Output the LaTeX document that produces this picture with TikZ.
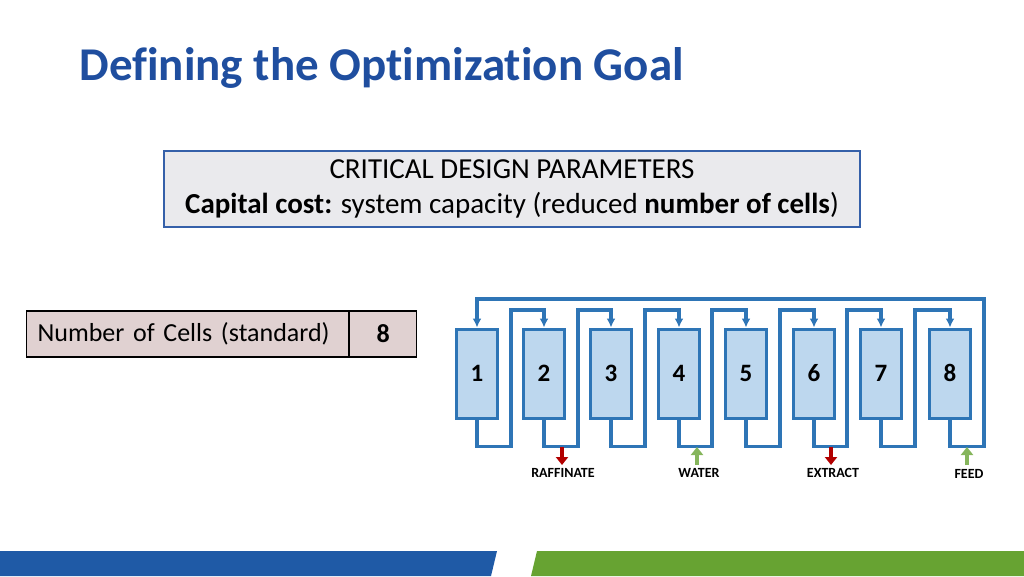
\documentclass[tikz,border=0pt]{standalone}
\usepackage{fontspec}
\setmainfont{Carlito}[Ligatures=NoCommon]
\usetikzlibrary{arrows.meta}
\definecolor{titleblue}{HTML}{1F4E9F}
\definecolor{pipe}{HTML}{2E75B6}
\definecolor{cellfill}{HTML}{BDD7EE}
\definecolor{barblue}{HTML}{1F5AA6}
\definecolor{bargreen}{HTML}{67A332}
\tikzset{
  cellbox/.style={draw=pipe, fill=cellfill, line width=3pt, minimum width=41pt, minimum height=89pt, text height=16pt, text depth=0pt, font=\fontsize{25}{30}\selectfont\bfseries},
  pipeline/.style={draw=pipe, line width=3.5pt},
  flowlabel/.style={font=\fontsize{14}{16}\selectfont\bfseries}
}
\begin{document}
\begin{tikzpicture}[x=1pt,y=-1pt]
  \useasboundingbox (0,0) rectangle (1024,576);

  % Title
  \node[anchor=west, text=titleblue, font=\fontsize{47}{54}\selectfont\bfseries] (title) at (76,68) {Defining the Optimization Goal};

  % Parameter box
  \node[draw=titleblue!90, fill=blue!8!gray!15, line width=2.5pt, minimum width=696pt, minimum height=76pt, align=center, inner sep=2pt, font=\fontsize{29}{35}\selectfont] (params) at (512,189)
    {CRITICAL DESIGN PARAMETERS\\\textbf{Capital cost:} system capacity (reduced \textbf{number of cells})};

  % Table
  \node[draw, line width=1.2pt, fill=red!20!gray!30, minimum width=322pt, minimum height=46pt, anchor=west, text width=300pt, align=left, font=\fontsize{26}{30}\selectfont] (tablekey) at (26,334) {Number of Cells (standard)};
  \node[draw, line width=1.2pt, fill=red!20!gray!30, minimum width=67pt, minimum height=46pt, anchor=west, font=\fontsize{26}{30}\selectfont\bfseries] (tableval) at (tablekey.east) {8};

  % Cells
  \foreach \i/\x in {1/477,2/544,3/611,4/679,5/746,6/814,7/881,8/950}
    \node[cellbox] (c\i) at (\x,373.5) {\i};

  % Links between neighbouring cells
  \foreach \i/\j/\g in {1/2/511,2/3/578,3/4/645,4/5/712,5/6/780,6/7/847,7/8/915}
    \draw[pipeline, -{Latex[length=9pt,width=9pt]}] (c\i.south) -- ++(0,27) -| (\g,310) -| (c\j.north);

  % Loop back from cell 8 to cell 1
  \draw[pipeline, -{Latex[length=9pt,width=9pt]}] (c8.south) -- ++(0,27) -| (984,299) -| (c1.north);

  % Streams
  \draw[red!70!black, line width=4pt, -{Triangle[length=8pt,width=12pt]}] (562,447) -- (562,465);
  \node[flowlabel] (raff) at (563,473) {RAFFINATE};
  \draw[bargreen!80!white, line width=4pt, -{Triangle[length=8pt,width=12pt]}] (697,465) -- (697,447);
  \node[flowlabel] (water) at (699,473) {WATER};
  \draw[red!70!black, line width=4pt, -{Triangle[length=8pt,width=12pt]}] (831,447) -- (831,465);
  \node[flowlabel] (extr) at (833,473) {EXTRACT};
  \draw[bargreen!80!white, line width=4pt, -{Triangle[length=8pt,width=12pt]}] (967,465) -- (967,447);
  \node[flowlabel] (feed) at (969,474) {FEED};

  % Footer bars
  \fill[barblue] (0,551) -- (497,551) -- (491,576) -- (0,576) -- cycle;
  \fill[bargreen] (537,551) -- (1024,551) -- (1024,576) -- (531,576) -- cycle;
\end{tikzpicture}
\end{document}
